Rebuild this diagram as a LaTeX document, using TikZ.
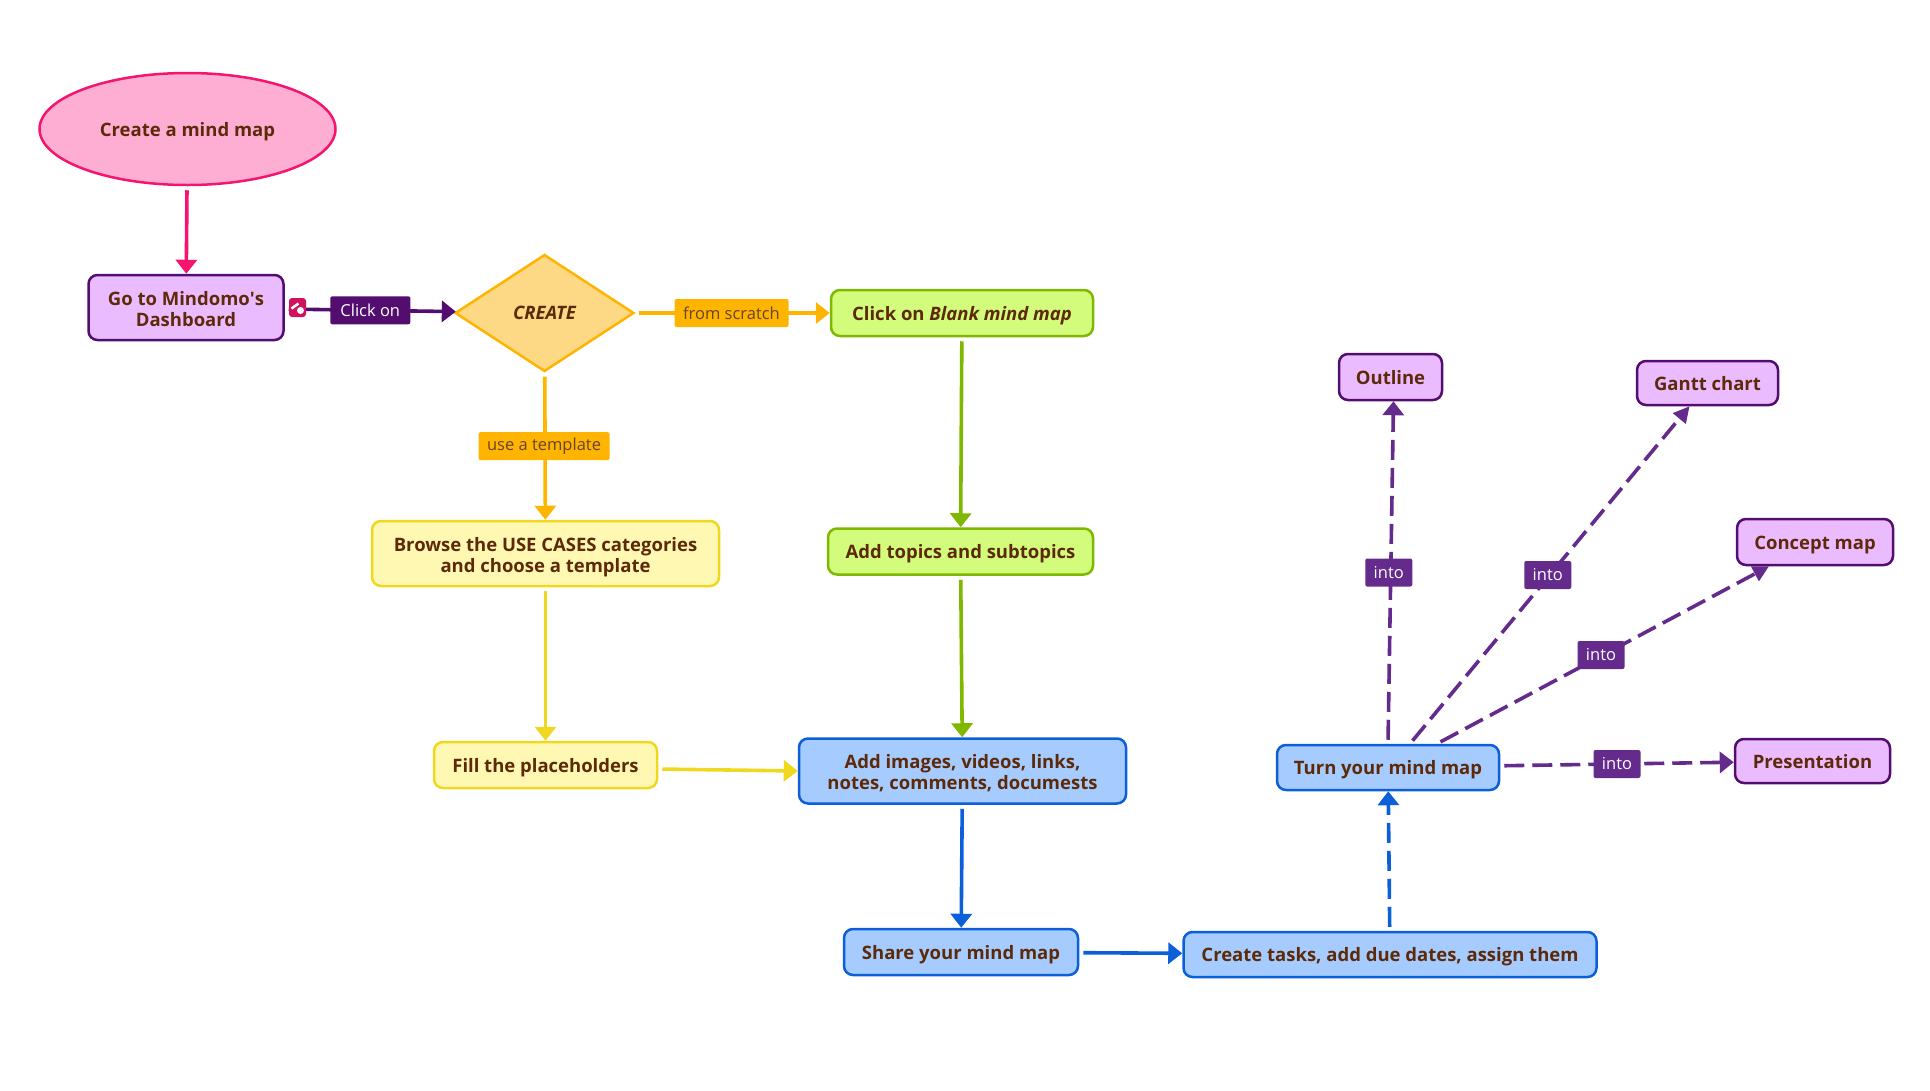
\documentclass[tikz,border=0pt]{standalone}
\usepackage{fontspec}
\setmainfont{Open Sans}
\usetikzlibrary{arrows.meta,shapes.geometric}
\definecolor{textbrown}{HTML}{5C2A08}
\definecolor{pinkline}{HTML}{F5146E}
\definecolor{pinkfill}{HTML}{FFAED3}
\definecolor{purpleline}{HTML}{520D6E}
\definecolor{purplefill}{HTML}{EBBBFF}
\definecolor{intopurple}{HTML}{642B8C}
\definecolor{orangeline}{HTML}{FFB400}
\definecolor{orangefill}{HTML}{FDD985}
\definecolor{greenline}{HTML}{7FB800}
\definecolor{greenfill}{HTML}{D3FB7C}
\definecolor{yellowline}{HTML}{F0D820}
\definecolor{yellowfill}{HTML}{FFF8B3}
\definecolor{blueline}{HTML}{0B5FD8}
\definecolor{bluefill}{HTML}{A6CBFF}
\tikzset{
    boxtext/.style={text=textbrown,align=center,font=\bfseries\fontsize{18.5}{20.8}\selectfont},
    lifted/.style={execute at begin node={\rule[-5pt]{0pt}{24pt}}},
    twolines/.style={execute at begin node={\rule{0pt}{42pt}}},
    mapbox/.style n args={4}{boxtext,lifted,draw=#1,fill=#2,line width=2.5pt,rounded corners=9pt,minimum width=#3,minimum height=#4,inner sep=0pt},
    tag/.style 2 args={fill=#1,text=#2,rounded corners=2pt,inner sep=0pt,minimum height=28pt,font=\fontsize{16.5}{18}\selectfont},
    into/.style={tag={intopurple}{white},minimum width=47pt},
    link/.style={line width=3.6pt,shorten <=4pt,-{Triangle[width=21pt,length=14pt]}},
    dashlink/.style={link,dash pattern=on 20pt off 8pt},
    slantlink/.style={dashlink,-{Triangle[width=16pt,length=16pt]}}
}
\begin{document}
\begin{tikzpicture}[x=1pt,y=-1pt]
    \useasboundingbox (0,0) rectangle (1930,1090);

    % Start
    \node[ellipse,boxtext,lifted,draw=pinkline,fill=pinkfill,line width=2.5pt,minimum width=296pt,minimum height=112pt,inner sep=0pt] (start) at (187.5,129) {Create a mind map};
    \node[mapbox={purpleline}{purplefill}{195pt}{65pt},twolines] (dashboard) at (186,307.5) {Go to Mindomo\textquotesingle s\\Dashboard};
    \node[diamond,boxtext,draw=orangeline,fill=orangefill,line width=2.5pt,minimum width=179pt,minimum height=117pt,inner sep=0pt] (create) at (544.5,313) {\itshape CREATE};

    % Linke Spalte
    \node[mapbox={yellowline}{yellowfill}{347pt}{65pt},twolines] (browse) at (545.5,553.5) {Browse the USE CASES categories\\and choose a template};
    \node[mapbox={yellowline}{yellowfill}{223pt}{46pt}] (fill) at (545.5,765) {Fill the placeholders};

    % Mittlere Spalte
    \node[mapbox={greenline}{greenfill}{262pt}{46pt}] (blank) at (962,313) {Click on \textit{Blank mind map}};
    \node[mapbox={greenline}{greenfill}{265pt}{46pt}] (topics) at (960.5,551.5) {Add topics and subtopics};
    \node[mapbox={blueline}{bluefill}{327pt}{65pt},twolines] (images) at (962.5,771) {Add images, videos, links,\\notes, comments, documests};
    \node[mapbox={blueline}{bluefill}{234pt}{46pt}] (share) at (961,952) {Share your mind map};
    \node[mapbox={blueline}{bluefill}{413pt}{45pt}] (tasks) at (1390,954.5) {Create tasks, add due dates, assign them};
    \node[mapbox={blueline}{bluefill}{222pt}{45pt}] (turn) at (1388,767.5) {Turn your mind map};

    % Ergebnisse
    \node[mapbox={purpleline}{purplefill}{103pt}{46pt}] (outline) at (1390.5,377) {Outline};
    \node[mapbox={purpleline}{purplefill}{141pt}{44pt}] (gantt) at (1707.5,383) {Gantt chart};
    \node[mapbox={purpleline}{purplefill}{156pt}{46pt}] (concept) at (1815,542) {Concept map};
    \node[mapbox={purpleline}{purplefill}{155pt}{44pt}] (presentation) at (1812.5,761) {Presentation};

    % Pfeile
    \draw[link,pinkline] (start) -- (dashboard);
    \draw[link,purpleline] (dashboard) -- node[tag={purpleline}{white},minimum width=80pt] (clickon) {Click on} (create);
    \draw[link,orangeline] (create) -- node[tag={orangeline}{textbrown!70!gray},minimum width=114pt,xshift=-1pt] (scratch) {from scratch} (blank);
    \draw[link,orangeline] (create) -- node[tag={orangeline}{textbrown!70!gray},minimum width=131pt,xshift=-1pt] (template) {use a template} (browse);
    \draw[link,yellowline] (browse) -- (fill);
    \draw[link,yellowline] ([yshift=-4pt]fill.east) -- (images.west);
    \draw[link,greenline] (blank) -- (topics);
    \draw[link,greenline] (topics) -- (images);
    \draw[link,blueline] (images) -- (share);
    \draw[link,blueline] (share) -- (tasks);
    \draw[dashlink,blueline] (tasks) -- (turn);

    % into
    \draw[dashlink,intopurple] (turn.north) -- node[into,xshift=-2pt] (intooutline) {into} ([xshift=3pt]outline.south);
    \foreach \target/\startx/\endx in {gantt/22/-18,concept/49/-46} {
        \draw[slantlink,intopurple] ([xshift=\startx pt]turn.north) -- node[into,xshift=-2pt] (into\target) {into} ([xshift=\endx pt]\target.south);
    }
    \draw[dashlink,intopurple] (turn) -- node[into] (intopresentation) {into} (presentation);

    % Link-Symbol
    \node[fill=pinkline!85!black,rounded corners=3pt,minimum width=17pt,minimum height=19pt,inner sep=0pt] (icon) at (297.5,307.5) {};
    \draw[white,line width=2.5pt] ([xshift=-6pt,yshift=-1pt]icon.center) -- ([xshift=1pt,yshift=4pt]icon.center);
    \fill[white] ([xshift=3pt,yshift=-3pt]icon.center) circle (3.5pt);
\end{tikzpicture}
\end{document}
